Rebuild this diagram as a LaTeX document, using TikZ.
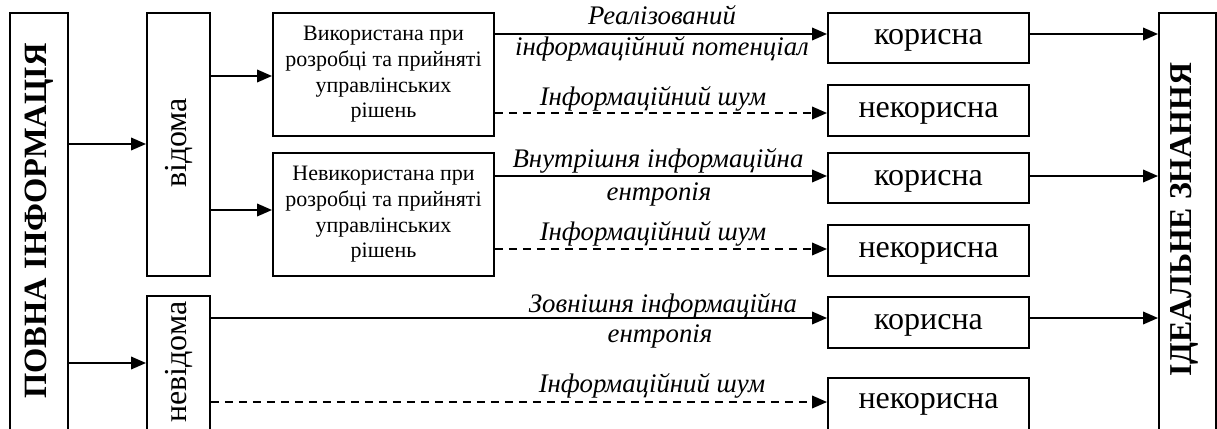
\documentclass[tikz,border=0pt]{standalone}
\usepackage{fontspec}
\setmainfont{Liberation Serif}
\usetikzlibrary{arrows.meta}
\begin{document}
\begin{tikzpicture}[x=1pt,y=-1pt,
  box/.style={draw,line width=1.9pt,inner sep=0pt,align=center},
  arr/.style={line width=2pt,-{Triangle[length=15pt,width=12.5pt]}},
  darr/.style={arr,dash pattern=on 8pt off 6pt},
  lab/.style={font=\fontsize{26.8}{28}\selectfont\itshape,anchor=base,inner sep=0pt},
  big/.style={font=\fontsize{32}{34}\selectfont},
  bigbox/.style={big,text height=21pt,text depth=7pt},
  small/.style={font=\fontsize{22}{25.7}\selectfont},
  bold/.style={font=\fontsize{32.5}{36}\selectfont\bfseries}
]
\useasboundingbox (0,0) rectangle (1217,428);
\clip (0,0) rectangle (1217,428);
% y levels
\coordinate (yA) at (0,34);
\coordinate (yB) at (0,113);
\coordinate (yC) at (0,176);
\coordinate (yD) at (0,249);
\coordinate (yE) at (0,318);
\coordinate (yF) at (0,402);
\coordinate (yP1) at (0,144);
\coordinate (yP2) at (0,363);
\coordinate (yV1) at (0,76);
\coordinate (yV2) at (0,210);
% left boxes
\node[box,minimum width=58pt,minimum height=427pt] (pi) at (39,226.5) {};
\node[bold,rotate=90,inner sep=0pt] (piT) at (39,221) {ПОВНА ІНФОРМАЦІЯ};
\node[box,minimum width=63pt,minimum height=263pt] (vid) at (178.5,144.5) {};
\node[big,rotate=90,inner sep=0pt] (vidT) at (178.5,143) {відома};
\node[box,minimum width=63pt,minimum height=144pt] (nevid) at (178.5,368) {};
\node[big,rotate=90,inner sep=0pt] (nevidT) at (178.5,362) {невідома};
% middle boxes
\node[box,small,minimum width=221pt,minimum height=123pt] (vyk) at (383.5,74.5)
  {Використана при\\розробці та прийняті\\управлінських\\рішень};
\node[box,small,minimum width=221pt,minimum height=123pt] (nevyk) at (383.5,214.5)
  {Невикористана при\\розробці та прийняті\\управлінських\\рішень};
% right boxes
\node[box,bigbox,minimum width=201pt,minimum height=50pt] (k1) at (928.5,38) {корисна};
\node[box,bigbox,minimum width=201pt,minimum height=51pt] (n1) at (928.5,110.5) {некорисна};
\node[box,bigbox,minimum width=201pt,minimum height=50pt] (k2) at (928.5,178) {корисна};
\node[box,bigbox,minimum width=201pt,minimum height=51pt] (n2) at (928.5,250.5) {некорисна};
\node[box,bigbox,minimum width=201pt,minimum height=51pt] (k3) at (928.5,322.5) {корисна};
\node[box,minimum width=201pt,minimum height=62pt] (n3) at (928.5,409) {};
\node[big,anchor=base,inner sep=0pt] (n3T) at (928.5,408) {некорисна};
% ideal
\node[box,minimum width=57pt,minimum height=427pt] (id) at (1187.5,226.5) {};
\node[bold,font=\fontsize{31.8}{36}\selectfont\bfseries,rotate=90,inner sep=0pt] (idT) at (1184,220) {ІДЕАЛЬНЕ ЗНАННЯ};
% connectors
\draw[arr] (pi.east |- yP1) -- (vid.west |- yP1);
\draw[arr] (pi.east |- yP2) -- (nevid.west |- yP2);
\draw[arr] (vid.east |- yV1) -- (vyk.west |- yV1);
\draw[arr] (vid.east |- yV2) -- (nevyk.west |- yV2);
\draw[arr] (vyk.east |- yA) -- (k1.west |- yA);
\draw[darr] (vyk.east |- yB) -- (n1.west |- yB);
\draw[arr] (nevyk.east |- yC) -- (k2.west |- yC);
\draw[darr] (nevyk.east |- yD) -- (n2.west |- yD);
\draw[arr] (nevid.east |- yE) -- (k3.west |- yE);
\draw[darr] (nevid.east |- yF) -- (n3.west |- yF);
\draw[arr] (k1.east |- yA) -- (id.west |- yA);
\draw[arr] (k2.east |- yC) -- (id.west |- yC);
\draw[arr] (k3.east |- yE) -- (id.west |- yE);
% labels
\node[lab] (l1) at (662,25) {Реалізований};
\node[lab] (l2) at (662,56) {інформаційний потенціал};
\node[lab] (l3) at (653,105) {Інформаційний шум};
\node[lab] (l4) at (658,167) {Внутрішня інформаційна};
\node[lab] (l5) at (659,200) {ентропія};
\node[lab] (l6) at (653,240) {Інформаційний шум};
\node[lab] (l7) at (663,312) {Зовнішня інформаційна};
\node[lab] (l8) at (660,342) {ентропія};
\node[lab] (l9) at (652,392) {Інформаційний шум};
\end{tikzpicture}
\end{document}
